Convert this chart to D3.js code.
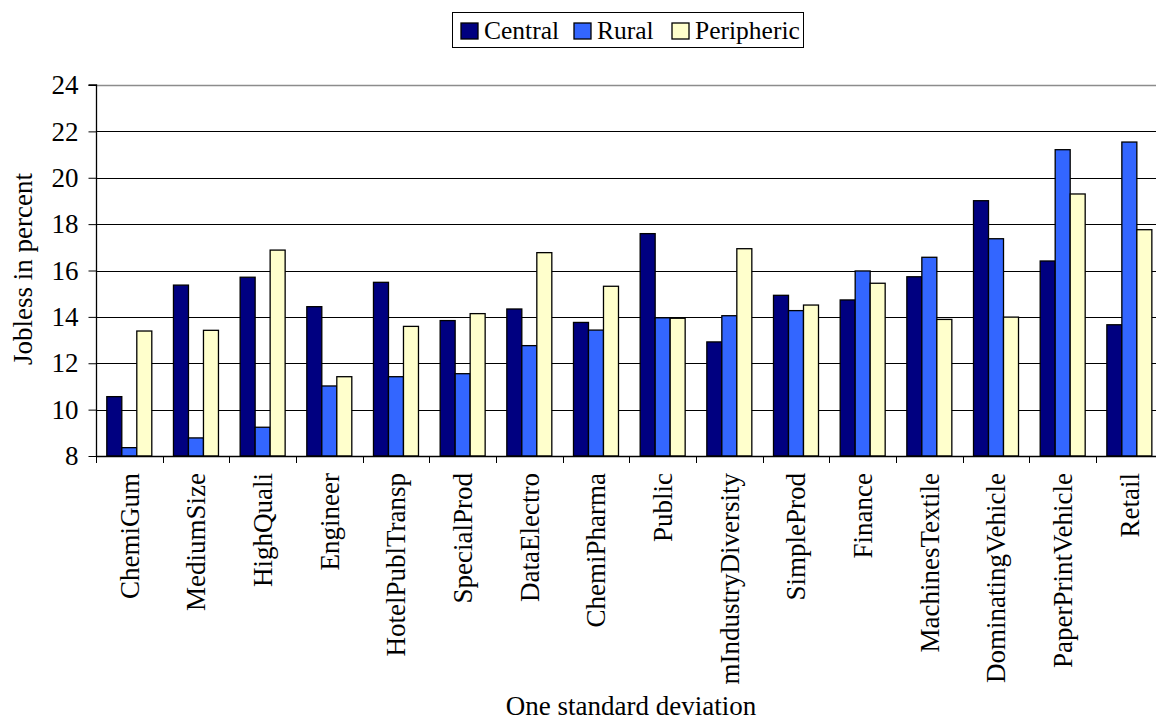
<!DOCTYPE html>
<html>
<head>
<meta charset="utf-8">
<script src="https://cdn.jsdelivr.net/npm/d3@7"></script>
<style>
  html, body { margin: 0; padding: 0; background: #fff; }
  svg { display: block; }
  text { font-family: "Liberation Serif", "Times New Roman", serif; fill: #000; }
</style>
</head>
<body>
<svg id="chart" width="1156" height="722"></svg>
<script>
// Categories along the x axis
const categories = ["ChemiGum", "MediumSize", "HighQuali", "Engineer", "HotelPublTransp",
  "SpecialProd", "DataElectro", "ChemiPharma", "Public", "mIndustryDiversity",
  "SimpleProd", "Finance", "MachinesTextile", "DominatingVehicle", "PaperPrintVehicle", "Retail"];

const seriesNames = ["Central", "Rural", "Peripheric"];
const seriesColors = ["#000080", "#3366ff", "#ffffcc"];

// Jobless rate (%) per category and region
const central    = [10.56, 15.37, 15.71, 14.44, 15.49, 13.84, 14.34, 13.76, 17.59, 12.92, 14.93, 14.73, 15.73, 19.01, 16.41, 13.66];
const rural      = [8.36, 8.78, 9.24, 11.02, 11.42, 11.55, 12.76, 13.43, 13.96, 14.05, 14.27, 15.98, 16.57, 17.37, 21.21, 21.54];
const peripheric = [13.39, 13.42, 16.88, 11.42, 13.59, 14.14, 16.77, 15.32, 13.94, 16.94, 14.51, 15.45, 13.89, 13.99, 19.30, 17.76];

const yTicks = [8, 10, 12, 14, 16, 18, 20, 22, 24];

const values = [central, rural, peripheric];

const svg = d3.select("#chart");
const plotLeft = 96, plotTop = 85, plotBottom = 456;
const bandW = 66.67;
const plotRight = plotLeft + bandW * categories.length;
const axisFont = 27;

const x = d3.scaleBand().domain(categories).range([plotLeft, plotRight]).paddingInner(0).paddingOuter(0);
const xs = d3.scaleBand().domain(seriesNames).range([10.8, 10.8 + 45]).padding(0);
const y = d3.scaleLinear().domain([8, 24]).range([plotBottom, plotTop]);

// Horizontal gridlines
svg.append("g").selectAll("line")
  .data(yTicks.filter(t => t > 8))
  .join("line")
  .attr("x1", plotLeft).attr("x2", plotRight)
  .attr("y1", d => Math.round(y(d)) + 0.5).attr("y2", d => Math.round(y(d)) + 0.5)
  .attr("stroke", d => d === 24 ? "#8c8c8c" : "#000")
  .attr("stroke-width", d => d === 24 ? 1.5 : 1);

// Bars
const groups = svg.append("g").selectAll("g")
  .data(categories)
  .join("g")
  .attr("transform", d => `translate(${x(d)},0)`);

groups.selectAll("rect")
  .data((d, i) => seriesNames.map((s, k) => ({ s, k, v: values[k][i] })))
  .join("rect")
  .attr("x", d => xs(d.s))
  .attr("width", xs.bandwidth())
  .attr("y", d => y(d.v))
  .attr("height", d => y(8) - y(d.v))
  .attr("fill", d => seriesColors[d.k])
  .attr("stroke", "#000")
  .attr("stroke-width", 1.3);

// Y axis
const yAxis = d3.axisLeft(y).tickValues(yTicks).tickSize(8).tickPadding(10).tickFormat(d3.format("d"));
const yg = svg.append("g").attr("transform", `translate(${plotLeft + 0.5},0)`).call(yAxis);
yg.select(".domain").attr("stroke", "#000").attr("stroke-width", 1.3).attr("d", `M-8,${plotTop}H0V${plotBottom}`);
yg.selectAll(".tick line").attr("stroke", "#000");
yg.selectAll(".tick text").attr("font-size", axisFont).attr("font-family", "Liberation Serif").attr("fill", "#000");

// X axis baseline and category ticks
svg.append("line")
  .attr("x1", plotLeft).attr("x2", plotRight)
  .attr("y1", plotBottom + 0.5).attr("y2", plotBottom + 0.5)
  .attr("stroke", "#000").attr("stroke-width", 1.3);

svg.append("g").selectAll("line")
  .data(d3.range(categories.length + 1))
  .join("line")
  .attr("x1", i => Math.round(plotLeft + i * bandW) + 0.5)
  .attr("x2", i => Math.round(plotLeft + i * bandW) + 0.5)
  .attr("y1", plotBottom).attr("y2", plotBottom + 7)
  .attr("stroke", "#000");

// Rotated category labels
svg.append("g").selectAll("text")
  .data(categories)
  .join("text")
  .attr("transform", d => `translate(${x(d) + x.bandwidth() / 2},473) rotate(-90)`)
  .attr("text-anchor", "end")
  .attr("dy", "0.35em")
  .attr("font-size", axisFont)
  .text(d => d);

// Axis titles
svg.append("text")
  .attr("x", 631).attr("y", 715)
  .attr("text-anchor", "middle")
  .attr("font-size", axisFont)
  .text("One standard deviation");

svg.append("text")
  .attr("transform", "translate(23,269) rotate(-90)")
  .attr("text-anchor", "middle")
  .attr("dy", "0.35em")
  .attr("font-size", axisFont)
  .text("Jobless in percent");

// Legend
const legend = svg.append("g");
legend.append("rect")
  .attr("x", 452.5).attr("y", 12.5).attr("width", 351).attr("height", 35)
  .attr("fill", "#fff").attr("stroke", "#000").attr("stroke-width", 1);

const legendX = [461, 574, 672];
seriesNames.forEach((s, k) => {
  legend.append("rect")
    .attr("x", legendX[k]).attr("y", 23).attr("width", 17).attr("height", 16)
    .attr("fill", seriesColors[k]).attr("stroke", "#000").attr("stroke-width", 1.3);
  legend.append("text")
    .attr("x", legendX[k] + 23).attr("y", 39)
    .attr("font-size", 25.5)
    .text(s);
});
</script>
</body>
</html>
